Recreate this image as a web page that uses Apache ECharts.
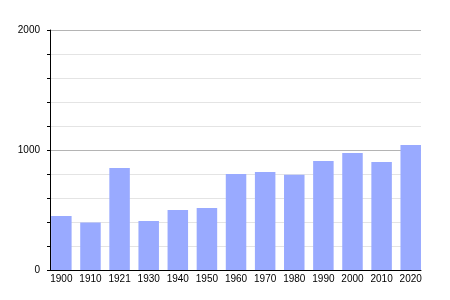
<!DOCTYPE html>
<html><head><meta charset="utf-8">
<script src="https://cdn.jsdelivr.net/npm/echarts@6/dist/echarts.min.js"></script>
<style>html,body{margin:0;padding:0;background:#fff}#c{width:450px;height:300px}</style>
</head><body><div id="c"></div>
<script>
const years = ['1900','1910','1921','1930','1940','1950','1960','1970','1980','1990','2000','2010','2020'];
const population = [450, 395, 850, 408, 500, 517, 800, 817, 794, 908, 975, 900, 1042];
const yTickLabels = ['0','1000','2000'];

const chart = echarts.init(document.getElementById('c'), null, {renderer:'canvas'});
const idx = years.map((_, i) => i);
chart.setOption({
  animation: false,
  grid: {left: 50, right: 29, top: 30, bottom: 30},
  xAxis: {
    type: 'value', min: -0.39, max: years.length - 1 + 0.353,
    axisLine: {show: true, onZero: false, lineStyle: {color: '#000', width: 1}},
    axisTick: {show: false},
    splitLine: {show: false},
    axisLabel: {
      customValues: idx, margin: 4,
      formatter: v => years[Math.round(v)],
      color: '#000', fontSize: 10, fontFamily: 'Liberation Sans, Arial, sans-serif'
    }
  },
  yAxis: {
    type: 'value', min: 0, max: 2000, interval: 200,
    axisLine: {show: true, onZero: false, lineStyle: {color: '#000', width: 1}},
    axisTick: {show: true, length: 3, lineStyle: {color: '#000'}},
    splitLine: {show: true, lineStyle: {color: ['#b4b4b4','#e4e4e4','#e4e4e4','#e4e4e4','#e4e4e4'], width: 1}},
    axisLabel: {
      margin: 10,
      formatter: v => yTickLabels.includes(String(v)) ? String(v) : '',
      color: '#000', fontSize: 10, fontFamily: 'Liberation Sans, Arial, sans-serif'
    }
  },
  series: [{
    type: 'bar',
    data: population.map((v, i) => [i, v]),
    barWidth: 20.5,
    itemStyle: {color: '#99aaff'}
  }]
});
</script></body></html>
